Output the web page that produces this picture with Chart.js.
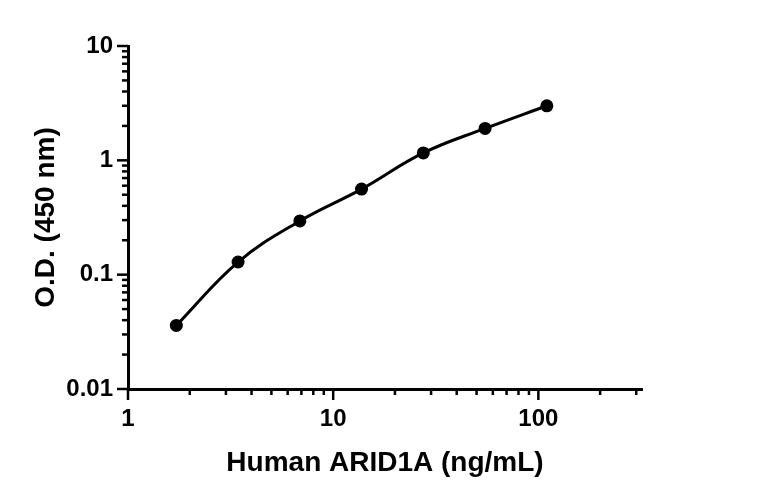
<!DOCTYPE html>
<html>
<head>
<meta charset="utf-8">
<script src="https://cdn.jsdelivr.net/npm/chart.js@4.4.1/dist/chart.umd.min.js"></script>
<style>
    html, body { margin: 0; padding: 0; background: #fff; }
    #wrap { width: 768px; height: 499px; position: relative; }
</style>
</head>
<body>
<div id="wrap"><canvas id="StdCurve"></canvas></div>
<script>
// standard curve
var concentration = [1.72, 3.44, 6.88, 13.75, 27.5, 55, 110];   // ng/mL
var odValue = [0.036, 0.129, 0.295, 0.56, 1.16, 1.9, 3.0];      // O.D. 450 nm
var xTickLabels = [1, 10, 100];
var yTickLabels = [0.01, 0.1, 1, 10];

var fontName = "'Liberation Sans', Arial, sans-serif";

function isPow10(v) {
    let l = Math.log10(v);
    return Math.abs(l - Math.round(l)) < 1e-9;
}
function isWholeStep(v) {
    let s = v / Math.pow(10, Math.floor(Math.log10(v) + 1e-9));
    return Math.abs(s - Math.round(s)) < 1e-6;
}

// long ticks at decades, short ones in between
const tickMarks = {
    id: 'tickMarks',
    afterDraw(chart) {
        const ctx = chart.ctx;
        ctx.save();
        ctx.strokeStyle = '#000';
        ctx.lineWidth = 2.5;
        let xs = chart.scales.x;
        xs.ticks.forEach(function (t) {
            if (!isWholeStep(t.value)) return;
            let px = xs.getPixelForValue(t.value);
            let len = isPow10(t.value) ? 11 : 6;
            ctx.beginPath();
            ctx.moveTo(px, xs.top);
            ctx.lineTo(px, xs.top + len);
            ctx.stroke();
        });
        let ys = chart.scales.y;
        ys.ticks.forEach(function (t) {
            if (!isWholeStep(t.value)) return;
            let py = ys.getPixelForValue(t.value);
            let len = isPow10(t.value) ? 11 : 6;
            ctx.beginPath();
            ctx.moveTo(ys.right, py);
            ctx.lineTo(ys.right - len, py);
            ctx.stroke();
        });
        ctx.restore();
    }
};

const points = concentration.map(function (c, i) {
    return { x: c, y: odValue[i] };
});

const config = {
    type: 'scatter',
    data: {
        datasets: [{
            label: 'Human ARID1A',
            data: points,
            showLine: true,
            borderColor: '#000',
            borderWidth: 3,
            tension: 0.4,
            pointRadius: 6.5,
            pointHoverRadius: 6.5,
            pointBackgroundColor: '#000',
            pointBorderColor: '#000',
            pointBorderWidth: 0
        }]
    },
    options: {
        responsive: true,
        maintainAspectRatio: false,
        animation: false,
        layout: {
            padding: { top: 46, right: 126, left: 0, bottom: 0 }
        },
        plugins: {
            legend: { display: false },
            tooltip: { enabled: false }
        },
        scales: {
            x: {
                type: 'logarithmic',
                min: 1,
                max: 320,
                grid: { display: false, drawTicks: false },
                border: { display: true, color: '#000', width: 3 },
                ticks: {
                    autoSkip: false,
                    maxRotation: 0,
                    padding: 16,
                    color: '#000',
                    font: { family: fontName, size: 24, weight: 'bold' },
                    callback: function (v) {
                        return xTickLabels.includes(v) ? String(v) : '';
                    }
                },
                title: {
                    display: true,
                    text: 'Human ARID1A (ng/mL)',
                    color: '#000',
                    padding: { top: 0, bottom: 19 },
                    font: { family: fontName, size: 28, weight: 'bold' }
                },
                afterFit: function (scale) { scale.height = 110; }
            },
            y: {
                type: 'logarithmic',
                min: 0.01,
                max: 10,
                grid: { display: false, drawTicks: false },
                border: { display: true, color: '#000', width: 3 },
                ticks: {
                    autoSkip: false,
                    padding: 15,
                    color: '#000',
                    font: { family: fontName, size: 24, weight: 'bold' },
                    callback: function (v) {
                        return yTickLabels.includes(v) ? String(v) : '';
                    }
                },
                title: {
                    display: true,
                    text: 'O.D. (450 nm)',
                    color: '#000',
                    padding: { top: 29, bottom: 0 },
                    font: { family: fontName, size: 28, weight: 'bold' }
                },
                afterFit: function (scale) { scale.width = 128; }
            }
        }
    },
    plugins: [tickMarks]
};

var StdChart = new Chart(document.getElementById('StdCurve'), config);
</script>
</body>
</html>
